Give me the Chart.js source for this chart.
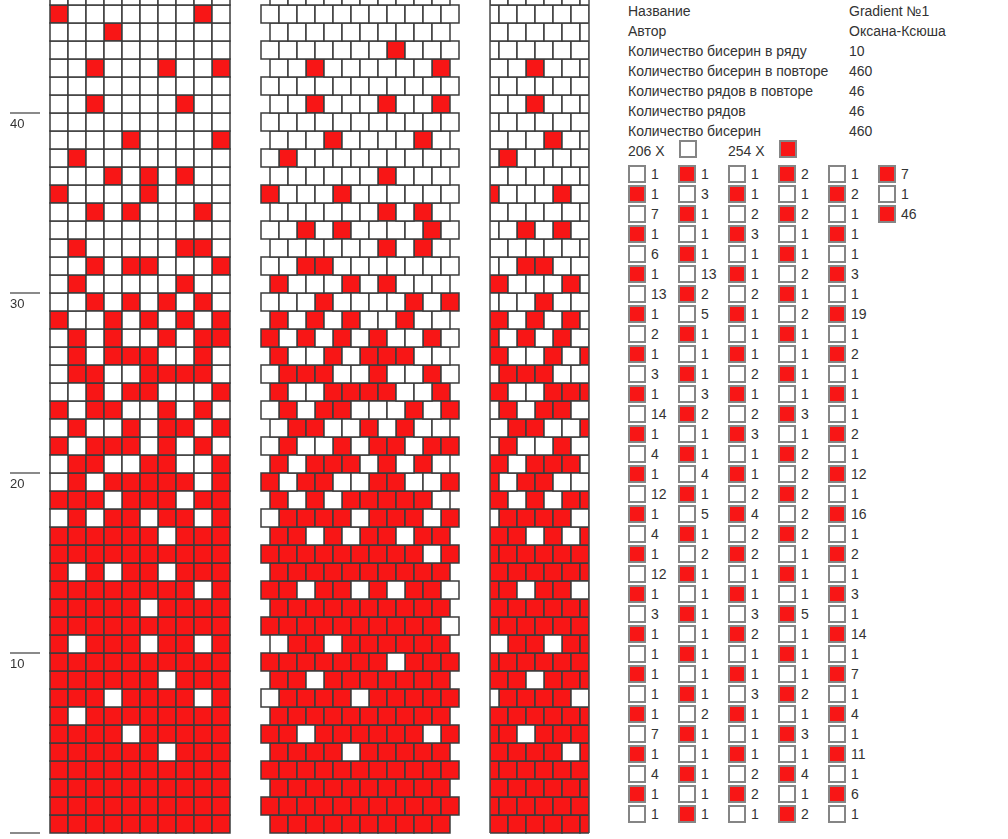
<!DOCTYPE html>
<html lang="ru">
<head>
<meta charset="utf-8">
<title>Gradient №1</title>
<script src="https://cdn.jsdelivr.net/npm/chart.js@4.4.1/dist/chart.umd.min.js"></script>
<style>
  html, body { margin: 0; padding: 0; background: #fff; }
  body {
    width: 1008px; height: 839px; overflow: hidden; position: relative;
    font-family: "Liberation Sans", Arial, sans-serif; font-size: 14px; color: #333;
  }
  canvas { position: absolute; top: 0; }
  #draft { left: 0; }
  #corrected { left: 250px; }
  #simulation { left: 480px; }
  .txt { position: absolute; height: 20px; line-height: 20px; white-space: nowrap; }
  .sw { position: absolute; width: 14px; height: 14px; border: 2px solid #858585; }
</style>
</head>
<body>
<canvas id="draft" width="240" height="839"></canvas>
<canvas id="corrected" width="220" height="839"></canvas>
<canvas id="simulation" width="120" height="839"></canvas>
<div id="report"></div>

<script>
// pattern info
const infoLabels = ["Название", "Автор", "Количество бисерин в ряду", "Количество бисерин в повторе",
  "Количество рядов в повторе", "Количество рядов", "Количество бисерин"];
const infoValues = ["Gradient №1", "Оксана-Ксюша", "10", "460", "46", "46", "460"];

const beadsPerRow = 10;
const rowTicks = [0, 10, 20, 30, 40];
const colorNames = ["white", "red"];
const colorCounts = [206, 254];
const beadColors = { white: "#ffffff", red: "#f81616" };

// bead list (threading order), colours alternate starting with white
const list1 = [1, 1, 7, 1, 6, 1, 13, 1, 2, 1, 3, 1, 14, 1, 4, 1, 12, 1, 4, 1, 12, 1, 3, 1, 1, 1, 1, 1, 7, 1, 4, 1, 1];
const list2 = [1, 3, 1, 1, 1, 13, 2, 5, 1, 1, 1, 3, 2, 1, 1, 4, 1, 5, 1, 2, 1, 1, 1, 1, 1, 1, 1, 2, 1, 1, 1, 1, 1];
const list3 = [1, 1, 2, 3, 1, 1, 2, 1, 1, 1, 2, 1, 2, 3, 1, 1, 2, 4, 2, 2, 1, 1, 3, 2, 1, 1, 3, 1, 1, 1, 2, 2, 1];
const list4 = [2, 1, 2, 1, 1, 2, 1, 2, 1, 1, 1, 1, 3, 1, 2, 2, 2, 2, 2, 1, 1, 1, 5, 1, 1, 1, 2, 1, 3, 1, 4, 1, 2];
const list5 = [1, 2, 1, 1, 1, 3, 1, 19, 1, 2, 1, 1, 1, 2, 1, 12, 1, 16, 1, 2, 1, 3, 1, 14, 1, 7, 1, 4, 1, 11, 1, 6, 1];
const list6 = [7, 1, 46];
const listColumns = [list1, list2, list3, list4, list5, list6];

// ---- build bead sequence from the list ----
const runs = [];
listColumns.forEach(col => col.forEach(n => {
  runs.push({ n: n, color: colorNames[runs.length % 2] });
}));
const threaded = [];
runs.forEach(r => { for (let i = 0; i < r.n; i++) threaded.push(r.color); });
// the list is threaded from the top, so crochet order is reversed
const sequence = threaded.slice().reverse();
const beadAt = idx => idx < sequence.length ? sequence[idx] : "white";

const CELL = 18;
const GRID_H = 833;
const rowsShown = 47;

function splitByColor(cells) {
  const out = { white: [], red: [] };
  cells.forEach(c => out[c.color].push({ x: c.x, y: c.y }));
  return out;
}

function beadDatasets(cells, clip) {
  const byColor = splitByColor(cells);
  return colorNames.map(name => ({
    label: name,
    data: byColor[name],
    pointStyle: "rect",
    pointRadius: CELL / Math.SQRT2,
    pointHoverRadius: CELL / Math.SQRT2,
    pointBackgroundColor: beadColors[name],
    pointBorderColor: "#3c3c3c",
    pointBorderWidth: 1.5,
    pointHoverBorderWidth: 1.5,
    showLine: false,
    clip: clip
  }));
}

function gridOptions(xMax, padding) {
  return {
    responsive: false,
    animation: false,
    devicePixelRatio: 1,
    events: [],
    layout: { padding: padding, autoPadding: false },
    plugins: { legend: { display: false }, tooltip: { enabled: false } },
    scales: {
      x: { type: "linear", min: 0, max: xMax, display: false },
      y: { type: "linear", min: 0, max: GRID_H / CELL, display: false }
    }
  };
}

// draft: straight rows, 10 beads each
const draftCells = [];
for (let r = 0; r < rowsShown; r++) {
  for (let c = 0; c < beadsPerRow; c++) {
    draftCells.push({ x: c + 0.5, y: r + 0.5, color: beadAt(r * beadsPerRow + c) });
  }
}

// corrected: rows alternate 10 and 11 beads
function rowStart(k) {
  return Math.floor(k / 2) * (2 * beadsPerRow + 1) + (k % 2 ? beadsPerRow : 0);
}
const correctedCells = [];
const simCells = [];
for (let k = 0; k < rowsShown; k++) {
  const len = k % 2 ? beadsPerRow + 1 : beadsPerRow;
  const start = rowStart(k);
  for (let j = 0; j < len; j++) {
    correctedCells.push({ x: j + (k % 2 ? 0.5 : 1), y: k + 0.5, color: beadAt(start + j) });
  }
  for (let j = 0; j <= beadsPerRow / 2; j++) {
    simCells.push({ x: j + (k % 2 ? 0 : 0.5), y: k + 0.5, color: beadAt(start + j) });
  }
}

const rowTickPlugin = {
  id: "rowTicks",
  afterDraw(chart) {
    const ctx = chart.ctx;
    const y = chart.scales.y;
    ctx.save();
    rowTicks.forEach(v => {
      const py = Math.round(y.getPixelForValue(v));
      ctx.strokeStyle = "#8a8a8a";
      ctx.lineWidth = 2;
      ctx.beginPath();
      ctx.moveTo(10, py);
      ctx.lineTo(40, py);
      ctx.stroke();
      if (v > 0) {
        ctx.fillStyle = "#333";
        ctx.font = "13px 'Liberation Sans', Arial, sans-serif";
        ctx.textBaseline = "top";
        ctx.fillText(String(v), 10, py + 5);
      }
    });
    ctx.restore();
  }
};

const edgePlugin = {
  id: "edges",
  afterDatasetsDraw(chart) {
    const { ctx, chartArea } = chart;
    const y = chart.scales.y;
    ctx.save();
    ctx.strokeStyle = "#4a4a4a";
    ctx.lineWidth = 1.5;
    ctx.beginPath();
    ctx.moveTo(chartArea.left, 0);
    ctx.lineTo(chartArea.left, y.getPixelForValue(0));
    ctx.moveTo(chartArea.right, 0);
    ctx.lineTo(chartArea.right, y.getPixelForValue(0));
    ctx.stroke();
    ctx.restore();
  }
};

new Chart(document.getElementById("draft"), {
  type: "scatter",
  data: { datasets: beadDatasets(draftCells, false) },
  options: gridOptions(beadsPerRow, { left: 50, right: 10, top: 0, bottom: 6 }),
  plugins: [rowTickPlugin]
});

new Chart(document.getElementById("corrected"), {
  type: "scatter",
  data: { datasets: beadDatasets(correctedCells, false) },
  options: gridOptions(beadsPerRow + 1, { left: 11, right: 11, top: 0, bottom: 6 })
});

new Chart(document.getElementById("simulation"), {
  type: "scatter",
  data: { datasets: beadDatasets(simCells, { left: 0, right: 0, top: false, bottom: false }) },
  options: gridOptions(beadsPerRow / 2 + 0.5, { left: 10, right: 11, top: 0, bottom: 6 }),
  plugins: [edgePlugin]
});

// ---- report ----
const report = document.getElementById("report");
function addText(text, left, top) {
  const d = document.createElement("div");
  d.className = "txt";
  d.style.left = left + "px";
  d.style.top = top + "px";
  d.textContent = text;
  report.appendChild(d);
}
function addSwatch(color, left, top) {
  const d = document.createElement("div");
  d.className = "sw";
  d.style.left = left + "px";
  d.style.top = top + "px";
  d.style.background = beadColors[color];
  report.appendChild(d);
}

infoLabels.forEach((lab, i) => {
  addText(lab, 628, 1 + 20 * i);
  addText(infoValues[i], 849, 1 + 20 * i);
});
colorNames.forEach((name, i) => {
  addText(colorCounts[i] + " X", 628 + 100 * i, 141);
  addSwatch(name, 679 + 100 * i, 140);
});

let runIdx = 0;
listColumns.forEach((col, c) => {
  col.forEach((n, r) => {
    const left = 628 + 50 * c;
    const top = 165 + 20 * r;
    addSwatch(runs[runIdx].color, left, top);
    addText(String(n), left + 23, top - 1);
    runIdx++;
  });
});
</script>
</body>
</html>
